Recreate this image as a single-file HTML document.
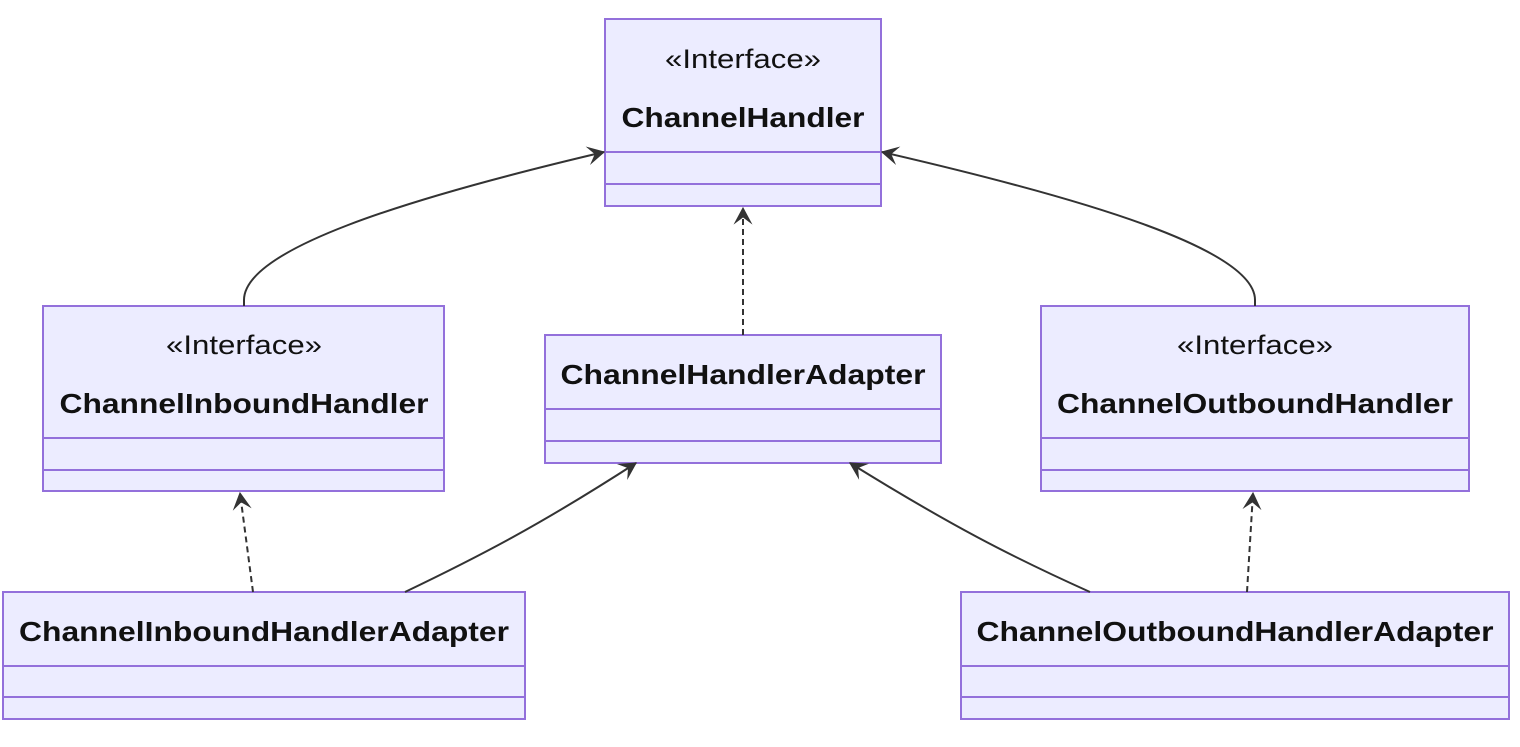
<!DOCTYPE html>
<html><head><meta charset="utf-8"><style>
html,body{margin:0;padding:0;background:#fff;}
svg text{font-family:"Liberation Sans",Arial,sans-serif;fill:#111;}
</style></head><body>
<svg width="1520" height="742" viewBox="0 0 1520 742" xmlns="http://www.w3.org/2000/svg">
<defs>
<marker id="a" viewBox="0 0 20 16" refX="18" refY="8" markerWidth="24" markerHeight="19" markerUnits="userSpaceOnUse" orient="auto">
<path d="M19,8 L4,16 L10,8 L4,0 Z" fill="#333"/>
</marker>
</defs>
<g fill="#ECECFF" stroke="#9370DB" stroke-width="2">
<rect x="605" y="19" width="276" height="187"/>
<line x1="605" y1="152" x2="881" y2="152"/><line x1="605" y1="184" x2="881" y2="184"/>
<rect x="43" y="306" width="401" height="185"/>
<line x1="43" y1="438" x2="444" y2="438"/><line x1="43" y1="470" x2="444" y2="470"/>
<rect x="545" y="335" width="396" height="128"/>
<line x1="545" y1="409" x2="941" y2="409"/><line x1="545" y1="441" x2="941" y2="441"/>
<rect x="1041" y="306" width="428" height="185"/>
<line x1="1041" y1="438" x2="1469" y2="438"/><line x1="1041" y1="470" x2="1469" y2="470"/>
<rect x="3" y="592" width="522" height="127"/>
<line x1="3" y1="666" x2="525" y2="666"/><line x1="3" y1="697" x2="525" y2="697"/>
<rect x="961" y="592" width="548" height="127"/>
<line x1="961" y1="666" x2="1509" y2="666"/><line x1="961" y1="697" x2="1509" y2="697"/>
</g>
<g fill="none" stroke="#333" stroke-width="2">
<path d="M244,306 L244,300 C244,250 400,200 604,152" marker-end="url(#a)"/>
<path d="M1255,306 L1255,300 C1255,250 1090,200 882,152" marker-end="url(#a)"/>
<path d="M743,335 L743,208" stroke-dasharray="6,4" marker-end="url(#a)"/>
<path d="M253,592 L240,493" stroke-dasharray="6,4" marker-end="url(#a)"/>
<path d="M1247,592 L1253,493" stroke-dasharray="6,4" marker-end="url(#a)"/>
<path d="M405,592 C480,556 540,525 636,463" marker-end="url(#a)"/>
<path d="M1090,592 C1010,556 950,525 850,463" marker-end="url(#a)"/>
</g>
<g text-anchor="middle">
<text x="743" y="68" font-size="27" textLength="156" lengthAdjust="spacingAndGlyphs">«Interface»</text>
<text x="743" y="127" font-size="28" font-weight="bold" textLength="243" lengthAdjust="spacingAndGlyphs">ChannelHandler</text>
<text x="244" y="354" font-size="27" textLength="156" lengthAdjust="spacingAndGlyphs">«Interface»</text>
<text x="244" y="413" font-size="28" font-weight="bold" textLength="369" lengthAdjust="spacingAndGlyphs">ChannelInboundHandler</text>
<text x="743" y="384" font-size="28" font-weight="bold" textLength="365" lengthAdjust="spacingAndGlyphs">ChannelHandlerAdapter</text>
<text x="1255" y="354" font-size="27" textLength="156" lengthAdjust="spacingAndGlyphs">«Interface»</text>
<text x="1255" y="413" font-size="28" font-weight="bold" textLength="396" lengthAdjust="spacingAndGlyphs">ChannelOutboundHandler</text>
<text x="264" y="641" font-size="28" font-weight="bold" textLength="490" lengthAdjust="spacingAndGlyphs">ChannelInboundHandlerAdapter</text>
<text x="1235" y="641" font-size="28" font-weight="bold" textLength="517" lengthAdjust="spacingAndGlyphs">ChannelOutboundHandlerAdapter</text>
</g>
</svg>
</body></html>
